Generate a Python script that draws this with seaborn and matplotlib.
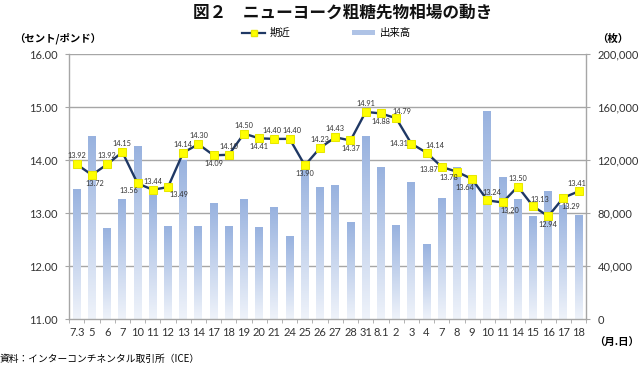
import numpy as np
import matplotlib
matplotlib.use("Agg")
import matplotlib.pyplot as plt
import seaborn as sns
from matplotlib.lines import Line2D
from matplotlib.patches import Patch
from matplotlib.colors import LinearSegmentedColormap

dates = ["7.3", "5", "6", "7", "10", "11", "12", "13", "14", "17", "18", "19", "20", "21",
         "24", "25", "26", "27", "28", "31", "8.1", "2", "3", "4", "7", "8", "9", "10",
         "11", "14", "15", "16", "17", "18"]
price = [13.92, 13.72, 13.92, 14.15, 13.56, 13.44, 13.49, 14.14, 14.30, 14.09, 14.10,
         14.50, 14.41, 14.40, 14.40, 13.90, 14.23, 14.43, 14.37, 14.91, 14.88, 14.79,
         14.31, 14.14, 13.87, 13.78, 13.64, 13.24, 13.20, 13.50, 13.13, 12.94, 13.29, 13.41]
volume = [98000, 138000, 68000, 90000, 130000, 93000, 70000, 120000, 70000, 87000, 70000,
          90000, 69000, 84500, 62000, 114000, 99000, 100500, 72500, 137500, 114000, 70500,
          103000, 56000, 91000, 114000, 104000, 157000, 107000, 90000, 77500, 96500, 86000, 78000]
left_ticks = [11.00, 12.00, 13.00, 14.00, 15.00, 16.00]
right_ticks = [0, 40000, 80000, 120000, 160000, 200000]

plt.rcParams['font.family'] = ['Noto Sans CJK JP', 'DejaVu Sans']
JP = ['Noto Sans CJK JP', 'DejaVu Sans']
NUM = ['Lato', 'DejaVu Sans']

fig = plt.figure(figsize=(6.4, 3.68), dpi=100)
ax = fig.add_axes([0.108, 0.133, 0.808, 0.720])

n = len(dates)
idx = np.arange(n)
sns.barplot(x=idx, y=volume, ax=ax, color="#9DB5E0", width=0.52, saturation=1, zorder=2)

cmap = LinearSegmentedColormap.from_list("g", ["#EFF3FA", "#98B2DF"])
grad = np.linspace(0, 1, 256).reshape(-1, 1)
for p in list(ax.patches):
    x0 = p.get_x(); w = p.get_width(); h = p.get_height()
    ax.imshow(grad, extent=(x0, x0 + w, 0, h), origin='lower', aspect='auto',
              cmap=cmap, zorder=2.5)
    p.set_facecolor('none'); p.set_edgecolor('none')
ax.set_ylim(0, 200000)
ax.set_xlim(-0.5, n - 0.5)
for v in right_ticks[1:]:
    ax.axhline(v, color='#A6A6A6', lw=1, zorder=1)

ax2 = ax.twinx()
ax.yaxis.tick_right()
ax.set_yticks(right_ticks)
ax.set_yticklabels([f"{v:,}" for v in right_ticks], family=NUM)
ax.set_xticks(idx)
ax.set_xticklabels(dates, family=NUM)
ax.set_xticks(np.arange(-0.5, n, 1), minor=True)
ax.tick_params(axis='x', which='major', length=0, labelsize=8, colors='#333333', pad=6)
ax.tick_params(axis='x', which='minor', length=3, color='#A6A6A6')
ax.tick_params(axis='y', length=3, color='#A6A6A6', labelsize=8, labelcolor='#333333', pad=5)
ax.set_xlabel(""); ax.set_ylabel("")
ax.spines['top'].set_visible(False)
for s in ['left', 'right', 'bottom']:
    ax.spines[s].set_color('#A6A6A6')
    ax.spines[s].set_linewidth(1)
ax.grid(False)

sns.lineplot(x=idx, y=price, ax=ax2, color="#1F3864", linewidth=1.7, marker='s',
             markersize=6, markerfacecolor='#FFFF00', markeredgecolor='#E8E800', zorder=5)
ax2.set_ylim(11, 16)
ax2.yaxis.tick_left()
ax2.set_yticks(left_ticks)
ax2.set_yticklabels([f"{v:.2f}" for v in left_ticks], family=NUM)
ax2.tick_params(axis='y', length=3, color='#A6A6A6', labelsize=8, labelcolor='#333333', pad=5)
for s in ax2.spines.values():
    s.set_visible(False)
ax2.set_xlim(-0.5, n - 0.5)
ax2.set_ylabel("")

offs = [(0, 6), (2, -6), (0, 6), (0, 6), (-6, -5), (0, 6), (8, -5), (0, 6), (0, 6), (0, -6),
        (0, 6), (0, 6), (0, -6), (-2, 6), (2, 6), (0, -6), (0, 6), (0, 6), (0, -6), (0, 6),
        (0, -6), (4, 5), (-9, 0), (6, 5), (-9, -2), (-6, -4), (-5, -6), (3, 6), (5, -6),
        (0, 6), (5, 5), (0, -6), (5, -6), (-1, 6)]
for i, (v, o) in enumerate(zip(price, offs)):
    ax2.annotate(f"{v:.2f}", (i, v), xytext=o, textcoords='offset points',
                 ha='center', va='center', fontsize=5.3, color='#333333', zorder=6, family=NUM)

fig.text(0.535, 0.965, "図２　ニューヨーク粗糖先物相場の動き", ha='center', va='center',
         fontsize=12, fontweight='bold', family=JP, color='#111111')
fig.text(0.022, 0.895, "（セント/ポンド）", ha='left', va='center', fontsize=7.5,
         fontweight='bold', family=JP)
fig.text(0.933, 0.895, "（枚）", ha='left', va='center', fontsize=7.5, fontweight='bold', family=JP)
fig.text(0.998, 0.068, "（月.日）", ha='right', va='center', fontsize=7.5, fontweight='bold', family=JP)
fig.text(0.0, 0.025, "資料：インターコンチネンタル取引所（ICE）", ha='left', va='center',
         fontsize=7, family=JP)

handles = [Line2D([0], [0], color="#1F3864", lw=1.6, marker='s', markersize=4,
                  markerfacecolor='#FFFF00', markeredgecolor='#E8E800'),
           Patch(facecolor="#AFC3E6", edgecolor='none')]
fig.legend(handles, ["期近", "出来高"], loc='center', bbox_to_anchor=(0.51, 0.91), ncol=2,
           frameon=False, fontsize=7.5, columnspacing=6, handlelength=2.2, handleheight=0.5,
           handletextpad=0.4)

fig.savefig("out.png", dpi=100)
